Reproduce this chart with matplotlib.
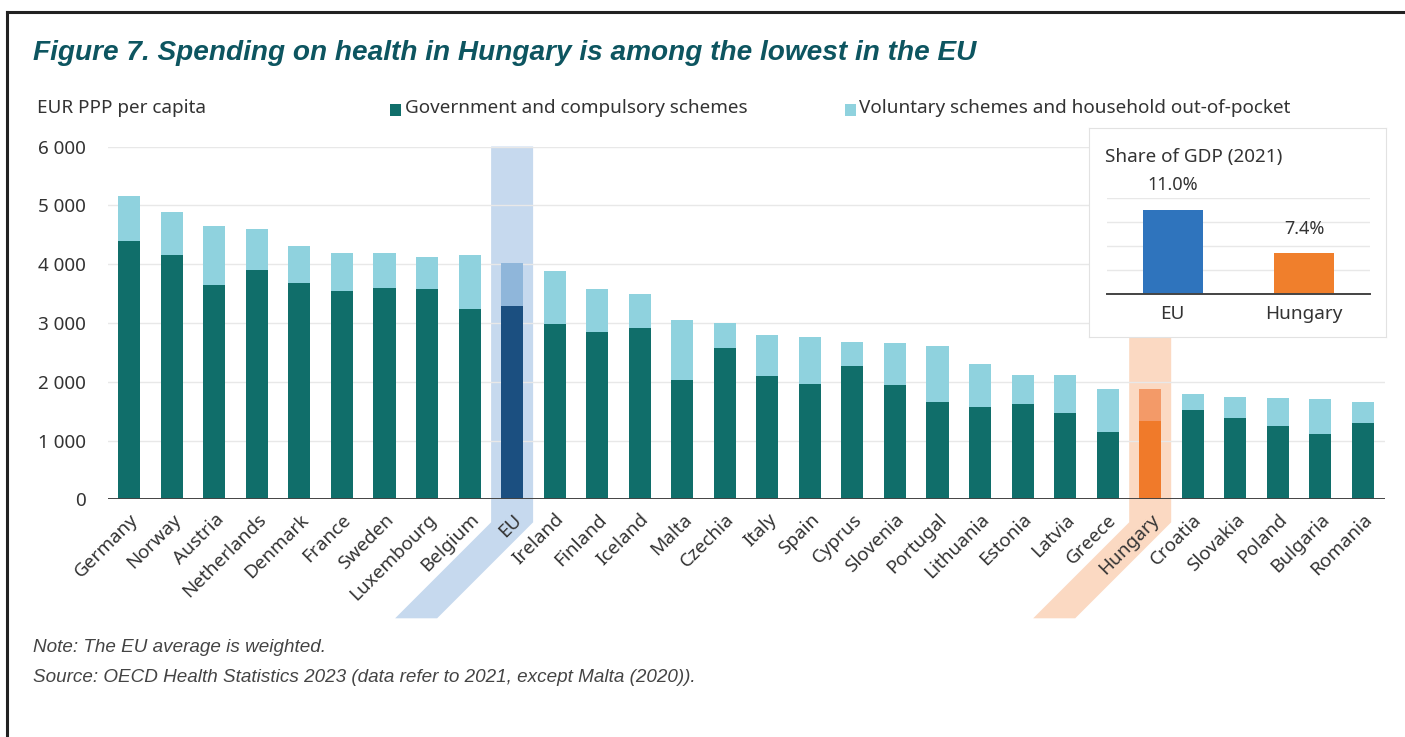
import matplotlib
matplotlib.use("Agg")
import matplotlib.pyplot as plt
import numpy as np
from matplotlib.patches import Polygon, Rectangle
from matplotlib.lines import Line2D
from matplotlib.transforms import IdentityTransform
from matplotlib.ticker import FuncFormatter

# data (EUR PPP per capita, 2021)
countries = ['Germany', 'Norway', 'Austria', 'Netherlands', 'Denmark', 'France', 'Sweden',
             'Luxembourg', 'Belgium', 'EU', 'Ireland', 'Finland', 'Iceland', 'Malta', 'Czechia',
             'Italy', 'Spain', 'Cyprus', 'Slovenia', 'Portugal', 'Lithuania', 'Estonia', 'Latvia',
             'Greece', 'Hungary', 'Croatia', 'Slovakia', 'Poland', 'Bulgaria', 'Romania']
government = [4400, 4160, 3650, 3900, 3675, 3550, 3600, 3585, 3235, 3295, 2985, 2850, 2915, 2035,
              2575, 2095, 1965, 2275, 1950, 1655, 1575, 1615, 1465, 1150, 1330, 1520, 1380, 1255,
              1105, 1295]
voluntary = [750, 720, 1000, 700, 640, 645, 595, 540, 920, 730, 900, 730, 580, 1010, 420, 700,
             790, 400, 715, 960, 725, 500, 645, 720, 540, 265, 360, 475, 595, 360]

gdp_labels = ['EU', 'Hungary']
gdp_share = [11.0, 7.4]

W, H = 1405, 737
TEAL = '#106e6a'
CYAN = '#8fd2de'
TXT = '#333333'
FONT = ['Noto Sans', 'DejaVu Sans']
NARROW = ['Liberation Sans Narrow', 'Liberation Sans', 'DejaVu Sans']
FS = 13.6

plt.rcParams['font.family'] = FONT


def fx(px):
    return px / W


def fy(py):
    return 1 - py / H


fig = plt.figure(figsize=(W / 100, H / 100), dpi=100)

ax = fig.add_axes([fx(108), fy(499.3), fx(1385 - 108), (499.3 - 146.5) / H])
x = np.arange(len(countries))

gov_colors = [TEAL] * len(countries)
vol_colors = [CYAN] * len(countries)
eu = countries.index('EU')
hu = countries.index('Hungary')
gov_colors[eu], vol_colors[eu] = '#1b4f80', '#8fb6da'
gov_colors[hu], vol_colors[hu] = '#f07a2a', '#f39a68'

ax.bar(x, government, width=0.52, color=gov_colors, zorder=2)
ax.bar(x, voluntary, bottom=government, width=0.52, color=vol_colors, zorder=2)

ax.set_xlim(-0.5, len(countries) - 0.48)
ax.set_ylim(0, 6000)
ax.set_yticks(np.arange(0, 6001, 1000))
ax.yaxis.set_major_formatter(FuncFormatter(lambda v, p: f'{int(v):,}'.replace(',', ' ')))
ax.grid(axis='y', color='#e8e8e8', linewidth=1)
ax.set_axisbelow(True)
for s in ['top', 'right', 'left', 'bottom']:
    ax.spines[s].set_visible(False)
ax.axhline(0, color='#444444', linewidth=1.4, zorder=3)
ax.tick_params(axis='y', length=0, pad=16, labelsize=FS, labelcolor=TXT)
ax.tick_params(axis='x', length=0, pad=8, labelsize=FS, labelcolor=TXT)
ax.set_xticks(x)
ax.set_xticklabels(countries, rotation=45, ha='right', rotation_mode='anchor')

# highlight bands for EU and Hungary
fig.canvas.draw()
for i, col in [(eu, '#c6d9ee'), (hu, '#fbd9c2')]:
    cx, y0 = ax.transData.transform((i, 0))
    top = ax.transData.transform((i, 6000))[1]
    hw, drop = 21, 96
    bend = y0 - 23
    pts = [(cx - hw, top), (cx + hw, top), (cx + hw, bend), (cx + hw - drop, bend - drop),
           (cx - hw - drop, bend - drop), (cx - hw, bend)]
    ax.add_patch(Polygon(pts, closed=True, transform=IdentityTransform(), facecolor=col,
                         edgecolor='none', clip_on=False, zorder=0.4))

# inset: share of GDP
box = fig.add_axes([fx(1089), fy(337), fx(1386 - 1089), (337 - 128) / H])
box.set_xticks([])
box.set_yticks([])
box.set_facecolor('white')
for s in box.spines.values():
    s.set_color('#e2e2e2')
box.text(16 / (1386 - 1089), 1 - 29 / 209, 'Share of GDP (2021)', transform=box.transAxes,
         ha='left', va='center', fontsize=FS, color=TXT)

ins = fig.add_axes([fx(1107), fy(293.7), fx(1370 - 1107), (293.7 - 197.7) / H])
ins.bar(range(len(gdp_labels)), gdp_share, width=0.46, color=['#2f74bd', '#f07f2c'], zorder=2)
ins.set_xlim(-0.5, 1.5)
ins.set_ylim(4, 12)
ins.set_yticks([4, 6, 8, 10, 12])
ins.set_yticklabels([])
ins.grid(axis='y', color='#e8e8e8', linewidth=1)
ins.set_axisbelow(True)
for s in ['top', 'right', 'left']:
    ins.spines[s].set_visible(False)
ins.spines['bottom'].set_color('#444444')
ins.spines['bottom'].set_linewidth(1.4)
ins.set_xticks(range(len(gdp_labels)))
ins.set_xticklabels(gdp_labels)
ins.tick_params(length=0, labelsize=FS, labelcolor=TXT, pad=8)
ins.patch.set_alpha(0)
for i, v in enumerate(gdp_share):
    ins.annotate(f'{v:.1f}%', (i, v), xytext=(0, 11), textcoords='offset points',
                 ha='center', va='bottom', fontsize=13, color=TXT)

# title, legend, notes
fig.text(fx(33), fy(53), 'Figure 7. Spending on health in Hungary is among the lowest in the EU',
         ha='left', va='center', fontsize=20.2, fontweight='bold', style='italic',
         color='#0d5560', family=NARROW)
fig.text(fx(37), fy(108), 'EUR PPP per capita', ha='left', va='center', fontsize=FS, color=TXT)
fig.patches.append(Rectangle((fx(390), fy(116)), fx(11), 12 / H, transform=fig.transFigure,
                             facecolor=TEAL, edgecolor='none'))
fig.text(fx(405), fy(108), 'Government and compulsory schemes', ha='left', va='center',
         fontsize=FS, color=TXT)
fig.patches.append(Rectangle((fx(845), fy(116)), fx(11), 12 / H, transform=fig.transFigure,
                             facecolor=CYAN, edgecolor='none'))
fig.text(fx(859), fy(108), 'Voluntary schemes and household out-of-pocket', ha='left',
         va='center', fontsize=FS, color=TXT)

fig.text(fx(33), fy(648), 'Note: The EU average is weighted.', ha='left', va='center',
         fontsize=13.6, style='italic', color='#444444', family=NARROW)
fig.text(fx(33), fy(677), 'Source: OECD Health Statistics 2023 (data refer to 2021, except Malta (2020)).',
         ha='left', va='center', fontsize=13.6, style='italic', color='#444444', family=NARROW)

# frame lines of the original page
fig.add_artist(Line2D([fx(7), 1], [fy(12), fy(12)], color='#222222', linewidth=2.2))
fig.add_artist(Line2D([fx(7), fx(7)], [0, fy(12)], color='#222222', linewidth=2.2))

fig.savefig('out.png', dpi=100)
